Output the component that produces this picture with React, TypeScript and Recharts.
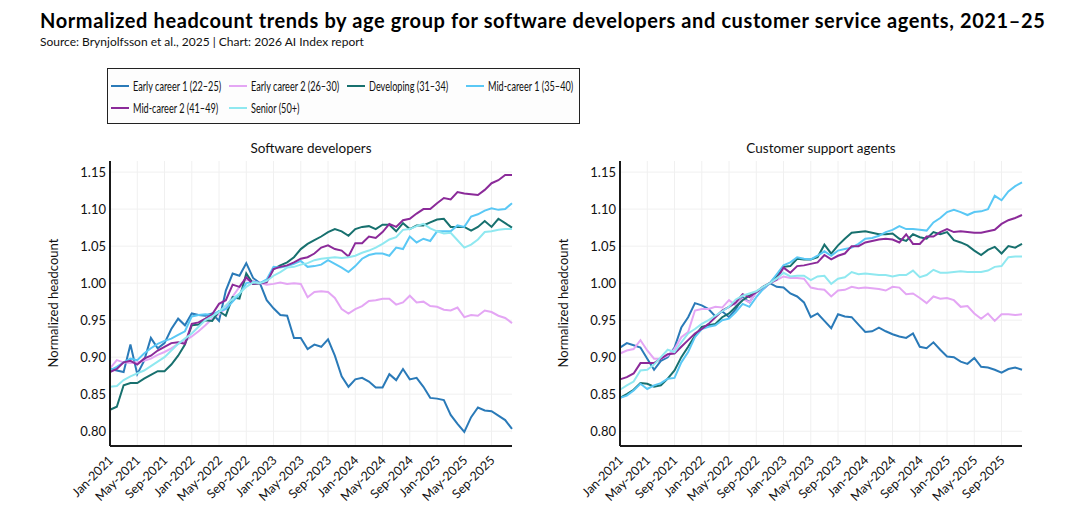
import React from "react";
import { LineChart, Line, XAxis, YAxis, CartesianGrid } from "recharts";

const monthNames = ["Jan", "Feb", "Mar", "Apr", "May", "Jun", "Jul", "Aug", "Sep", "Oct", "Nov", "Dec"];
const years = [2021, 2022, 2023, 2024, 2025];
const months = years.flatMap((y) => monthNames.map((m) => `${m}-${y}`));
const tickIdx = [0, 4, 8, 12, 16, 20, 24, 28, 32, 36, 40, 44, 48, 52, 56];
const yTicks = [0.8, 0.85, 0.9, 0.95, 1.0, 1.05, 1.1, 1.15];

const seriesKeys = ["early1", "early2", "developing", "mid1", "mid2", "senior"];
const seriesNames = [
  "Early career 1 (22–25)",
  "Early career 2 (26–30)",
  "Developing (31–34)",
  "Mid-career 1 (35–40)",
  "Mid-career 2 (41–49)",
  "Senior (50+)",
];
const seriesColors = ["#2a7ab8", "#e4a6f4", "#17706e", "#5ac8f5", "#8b2a99", "#8fe8f0"];

// Software developers
const devEarly1 = [
  0.884, 0.882, 0.88, 0.917, 0.877, 0.895, 0.926, 0.912, 0.919, 0.938,
  0.952, 0.943, 0.959, 0.957, 0.956, 0.959, 0.949, 0.99, 1.013, 1.01,
  1.027, 1.007, 1.0, 0.977, 0.966, 0.957, 0.956, 0.926, 0.926, 0.911,
  0.917, 0.914, 0.924, 0.902, 0.874, 0.86, 0.87, 0.872, 0.867, 0.859,
  0.859, 0.877, 0.869, 0.884, 0.87, 0.872, 0.86, 0.845, 0.844, 0.842,
  0.822, 0.81, 0.799, 0.819, 0.832, 0.828, 0.827, 0.821, 0.815, 0.803,
];
const devEarly2 = [
  0.885, 0.896, 0.893, 0.892, 0.893, 0.895, 0.898, 0.903, 0.907, 0.912,
  0.918, 0.922, 0.928, 0.935, 0.943, 0.952, 0.958, 0.966, 0.982, 0.995,
  1.005, 1.003, 1.0, 0.998, 0.999, 1.001, 0.999, 1.0, 0.999, 0.981,
  0.988, 0.989, 0.988, 0.98, 0.965, 0.959, 0.965, 0.969, 0.976, 0.977,
  0.979, 0.979, 0.971, 0.974, 0.983, 0.974, 0.975, 0.969, 0.968, 0.964,
  0.963, 0.967, 0.954, 0.957, 0.956, 0.963, 0.961, 0.956, 0.953, 0.946,
];
const devDeveloping = [
  0.829, 0.833, 0.862, 0.865, 0.865, 0.871, 0.876, 0.881, 0.881, 0.89,
  0.902, 0.917, 0.943, 0.944, 0.95, 0.949, 0.962, 0.956, 0.981, 0.979,
  1.013, 0.999, 1.0, 1.003, 1.019, 1.024, 1.028, 1.035, 1.046, 1.053,
  1.058, 1.063, 1.069, 1.073, 1.07, 1.064, 1.073, 1.076, 1.077, 1.073,
  1.079, 1.079, 1.07, 1.081, 1.073, 1.078, 1.078, 1.082, 1.086, 1.087,
  1.076, 1.076, 1.076, 1.071, 1.076, 1.084, 1.076, 1.087, 1.081, 1.075,
];
const devMid1 = [
  0.882, 0.887, 0.893, 0.898, 0.896, 0.905, 0.912, 0.918, 0.922, 0.925,
  0.93, 0.935, 0.955, 0.957, 0.958, 0.957, 0.962, 0.965, 0.975, 0.985,
  1.0, 1.002, 1.0, 1.005, 1.022, 1.021, 1.023, 1.026, 1.03, 1.022,
  1.023, 1.025, 1.031, 1.026, 1.021, 1.015, 1.023, 1.033, 1.038, 1.04,
  1.04, 1.037, 1.048, 1.046, 1.063, 1.055, 1.06, 1.057, 1.07, 1.07,
  1.07, 1.078, 1.076, 1.09, 1.093, 1.098, 1.101, 1.099, 1.1, 1.108,
];
const devMid2 = [
  0.88, 0.884, 0.893, 0.895, 0.89, 0.898, 0.902, 0.909, 0.914, 0.919,
  0.92, 0.918, 0.945, 0.947, 0.952, 0.958, 0.972, 0.977, 0.998, 0.995,
  1.008, 0.999, 1.0, 1.001, 1.019, 1.022, 1.024, 1.028, 1.033, 1.035,
  1.04, 1.048, 1.051, 1.046, 1.044, 1.036, 1.054, 1.054, 1.063, 1.061,
  1.069, 1.08, 1.076, 1.085, 1.087, 1.094, 1.1, 1.1, 1.108, 1.115,
  1.113, 1.123, 1.121, 1.12, 1.119, 1.126, 1.135, 1.139, 1.146, 1.146,
];
const devSenior = [
  0.86, 0.861, 0.869, 0.874, 0.878, 0.882, 0.888, 0.894, 0.9, 0.909,
  0.918, 0.925, 0.932, 0.941, 0.95, 0.955, 0.961, 0.97, 0.979, 0.986,
  0.995, 1.001, 1.0, 1.003, 1.01, 1.015, 1.021, 1.022, 1.025, 1.027,
  1.031, 1.033, 1.034, 1.035, 1.034, 1.035, 1.037, 1.041, 1.044, 1.048,
  1.053, 1.059, 1.062, 1.072, 1.073, 1.077, 1.08, 1.074, 1.07, 1.067,
  1.068, 1.058, 1.048, 1.052, 1.059, 1.069, 1.07, 1.072, 1.073, 1.073,
];

// Customer support agents
const csEarly1 = [
  0.913, 0.919, 0.916, 0.913, 0.898, 0.883, 0.895, 0.9, 0.913, 0.94,
  0.954, 0.973, 0.97, 0.965, 0.955, 0.962, 0.954, 0.965, 0.981, 0.974,
  0.988, 0.992, 1.0, 0.995, 0.994, 0.986, 0.982, 0.974, 0.954, 0.959,
  0.949, 0.939, 0.958, 0.955, 0.954, 0.944, 0.934, 0.935, 0.94, 0.935,
  0.931, 0.928, 0.926, 0.932, 0.914, 0.912, 0.92, 0.91, 0.901, 0.9,
  0.894, 0.891, 0.899, 0.887, 0.886, 0.883, 0.879, 0.884, 0.886, 0.883,
];
const csEarly2 = [
  0.905, 0.909, 0.911, 0.923, 0.909, 0.898, 0.898, 0.902, 0.911, 0.927,
  0.934, 0.963, 0.965, 0.965, 0.968, 0.967, 0.977, 0.97, 0.979, 0.974,
  0.988, 0.992, 1.0, 1.004, 1.009, 1.007, 1.007, 1.006, 0.994, 0.992,
  0.991, 0.982, 0.99, 0.991, 0.995, 0.993, 0.994, 0.993, 0.992, 0.99,
  0.995, 0.994, 0.985, 0.986, 0.98, 0.973, 0.982, 0.979, 0.98, 0.977,
  0.968, 0.969, 0.959, 0.952, 0.959, 0.949, 0.958, 0.958, 0.957, 0.958,
];
const csDeveloping = [
  0.845, 0.85, 0.856, 0.865, 0.864, 0.86, 0.862, 0.871, 0.882, 0.9,
  0.914, 0.929, 0.941, 0.943, 0.945, 0.954, 0.959, 0.968, 0.977, 0.983,
  0.988, 0.995, 1.0, 1.01, 1.022, 1.023, 1.033, 1.032, 1.032, 1.035,
  1.052, 1.04, 1.051, 1.06, 1.068, 1.069, 1.07, 1.068, 1.066, 1.066,
  1.067, 1.06, 1.057, 1.066, 1.062, 1.06, 1.069, 1.066, 1.069, 1.058,
  1.055, 1.051, 1.044, 1.038, 1.045, 1.049, 1.04, 1.05, 1.048, 1.053,
];
const csMid1 = [
  0.845, 0.848, 0.855, 0.864, 0.857, 0.862, 0.865, 0.871, 0.872, 0.893,
  0.907, 0.927, 0.938, 0.941, 0.943, 0.95, 0.952, 0.961, 0.972, 0.968,
  0.981, 0.992, 1.0, 1.012, 1.024, 1.028, 1.035, 1.033, 1.032, 1.037,
  1.043, 1.037, 1.044, 1.046, 1.048, 1.053, 1.06, 1.061, 1.064, 1.069,
  1.072, 1.077, 1.073, 1.073, 1.072, 1.071, 1.082, 1.088, 1.096, 1.099,
  1.096, 1.092, 1.096, 1.097, 1.1, 1.118, 1.112, 1.124, 1.131, 1.136,
];
const csMid2 = [
  0.87, 0.873, 0.878, 0.892, 0.892, 0.892, 0.898, 0.904, 0.905, 0.914,
  0.923, 0.932, 0.938, 0.945, 0.954, 0.963, 0.968, 0.974, 0.985, 0.981,
  0.988, 0.995, 1.0, 1.005, 1.021, 1.014, 1.023, 1.024, 1.026, 1.028,
  1.038, 1.032, 1.037, 1.04, 1.05, 1.05, 1.055, 1.057, 1.059, 1.06,
  1.059, 1.055, 1.066, 1.053, 1.053, 1.063, 1.063, 1.069, 1.073, 1.069,
  1.07, 1.069, 1.068, 1.068, 1.07, 1.072, 1.08, 1.085, 1.088, 1.092,
];
const csSenior = [
  0.856, 0.862, 0.867, 0.882, 0.883, 0.89, 0.9, 0.91, 0.907, 0.92,
  0.932, 0.938, 0.945, 0.95, 0.956, 0.962, 0.968, 0.978, 0.983, 0.986,
  0.989, 0.995, 1.0, 1.006, 1.014, 1.009, 1.01, 1.01, 1.004, 1.009,
  1.01, 0.999, 1.006, 1.008, 1.015, 1.012, 1.013, 1.012, 1.011, 1.011,
  1.009, 1.011, 1.011, 1.017, 1.008, 1.011, 1.018, 1.014, 1.014, 1.015,
  1.016, 1.015, 1.015, 1.015, 1.017, 1.022, 1.023, 1.035, 1.036, 1.036,
];

const buildRows = (series: number[][]) =>
  months.map((label, i) => {
    const row: Record<string, number | string> = { idx: i, label };
    seriesKeys.forEach((k, s) => (row[k] = series[s][i]));
    return row;
  });

const devRows = buildRows([devEarly1, devEarly2, devDeveloping, devMid1, devMid2, devSenior]);
const csRows = buildRows([csEarly1, csEarly2, csDeveloping, csMid1, csMid2, csSenior]);

const FONT = "Lato, 'Noto Sans', sans-serif";

const XTick = (props: any) => {
  const { x, y, payload } = props;
  const tx = x + 4;
  const ty = y + 15;
  return (
    <text
      x={tx}
      y={ty}
      transform={`rotate(-45, ${tx}, ${ty})`}
      textAnchor="end"
      fontSize={12.5}
      fontFamily={FONT}
      fill="#111"
    >
      {months[payload.value]}
    </text>
  );
};

const Panel = ({ rows, left, width, marginLeft, title }: any) => (
  <>
    <div
      style={{
        position: "absolute",
        left: left + marginLeft + 70,
        width: width - marginLeft - 70 - 28,
        top: 140,
        textAlign: "center",
        fontSize: 13.5,
        color: "#111",
      }}
    >
      {title}
    </div>
    <div
      style={{
        position: "absolute",
        left: left + marginLeft + 13,
        top: 303,
        transform: "translate(-50%, -50%) rotate(-90deg)",
        whiteSpace: "nowrap",
        fontSize: 13,
        color: "#111",
      }}
    >
      Normalized headcount
    </div>
    <div style={{ position: "absolute", left, top: 130 }}>
      <LineChart
        width={width}
        height={400}
        data={rows}
        margin={{ top: 31, right: 28, left: marginLeft, bottom: 24 }}
      >
        <CartesianGrid stroke="#f0f0f0" strokeWidth={1} syncWithTicks />
        <XAxis
          dataKey="idx"
          type="number"
          domain={[0, 59]}
          ticks={tickIdx}
          interval={0}
          height={60}
          tickLine={false}
          tickSize={0}
          tickMargin={0}
          axisLine={{ stroke: "#1a1a1a", strokeWidth: 2 }}
          tick={<XTick />}
        />
        <YAxis
          type="number"
          domain={[0.78, 1.165]}
          ticks={yTicks}
          interval={0}
          width={70}
          tickLine={false}
          tickSize={0}
          tickMargin={4}
          axisLine={{ stroke: "#1a1a1a", strokeWidth: 2 }}
          tickFormatter={(v: number) => v.toFixed(2)}
          tick={{ fontSize: 13, fill: "#111", fontFamily: FONT }}
        />
        {seriesKeys.map((k, s) => (
          <Line
            key={k}
            dataKey={k}
            name={seriesNames[s]}
            type="linear"
            stroke={seriesColors[s]}
            strokeWidth={2}
            dot={false}
            isAnimationActive={false}
          />
        ))}
      </LineChart>
    </div>
  </>
);

const legendCols = [3, 121, 239, 358];
const legendRows = [17, 39];

export default function App() {
  return (
    <div
      style={{
        position: "absolute",
        left: 0,
        top: 0,
        width: 1080,
        height: 530,
        background: "#fff",
        fontFamily: FONT,
        overflow: "hidden",
      }}
    >
      <div
        style={{
          position: "absolute",
          left: 40,
          top: 9,
          fontSize: 20,
          fontWeight: 700,
          letterSpacing: "0.6px",
          color: "#000",
          whiteSpace: "nowrap",
          lineHeight: "22px",
        }}
      >
        Normalized headcount trends by age group for software developers and customer service agents, 2021–25
      </div>
      <div
        style={{
          position: "absolute",
          left: 40,
          top: 35,
          fontSize: 12,
          color: "#111",
          whiteSpace: "nowrap",
          lineHeight: "14px",
        }}
      >
        Source: Brynjolfsson et al., 2025 | Chart: 2026 AI Index report
      </div>
      <div
        style={{
          position: "absolute",
          left: 107,
          top: 68,
          width: 473,
          height: 56,
          boxSizing: "border-box",
          border: "1.5px solid #222",
          background: "#fdfdfd",
        }}
      >
        {seriesNames.map((name, s) => (
          <div
            key={name}
            style={{
              position: "absolute",
              left: legendCols[s % 4],
              top: legendRows[Math.floor(s / 4)] - 8,
              height: 16,
              display: "flex",
              alignItems: "center",
              whiteSpace: "nowrap",
            }}
          >
            <span
              style={{
                display: "inline-block",
                width: 18,
                height: 2.5,
                background: seriesColors[s],
                marginRight: 4,
              }}
            />
            <span
              style={{
                display: "inline-block",
                fontSize: 12.5,
                color: "#111",
                transform: "scaleX(0.73)",
                transformOrigin: "left center",
              }}
            >
              {name}
            </span>
          </div>
        ))}
      </div>
      <Panel rows={devRows} left={0} width={540} marginLeft={40} title="Software developers" />
      <Panel rows={csRows} left={540} width={510} marginLeft={10} title="Customer support agents" />
    </div>
  );
}
